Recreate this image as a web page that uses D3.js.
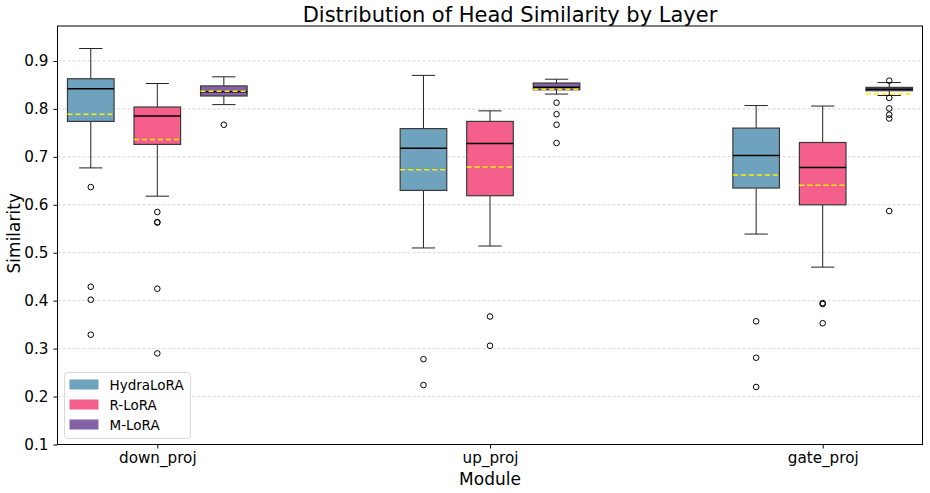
<!DOCTYPE html>
<html>
<head>
<meta charset="utf-8">
<script src="https://cdn.jsdelivr.net/npm/d3@7"></script>
<style>
  body { margin: 0; background: #fff; }
  text { font-family: "DejaVu Sans", sans-serif; }
</style>
</head>
<body>
<div id="chart"></div>
<script>
const modules = ["down_proj", "up_proj", "gate_proj"];
const methods = ["HydraLoRA", "R-LoRA", "M-LoRA"];
const colors = ["#6fa3bd", "#f4608b", "#8462a6"];
const yTicks = [0.1, 0.2, 0.3, 0.4, 0.5, 0.6, 0.7, 0.8, 0.9];

// per module: [whisker low, q1, median, q3, whisker high, mean]
const hydraBoxes = [
  [0.677, 0.774, 0.842, 0.863, 0.926, 0.789],
  [0.510, 0.630, 0.718, 0.759, 0.870, 0.673],
  [0.539, 0.635, 0.703, 0.760, 0.807, 0.662]
];
const rloraBoxes = [
  [0.618, 0.726, 0.785, 0.804, 0.853, 0.736],
  [0.514, 0.619, 0.728, 0.774, 0.796, 0.679],
  [0.470, 0.600, 0.678, 0.730, 0.806, 0.641]
];
const mloraBoxes = [
  [0.809, 0.827, 0.836, 0.848, 0.867, 0.837],
  [0.831, 0.840, 0.845, 0.854, 0.862, 0.841],
  [0.828, 0.838, 0.841, 0.845, 0.855, 0.831]
];

// outliers per module
const hydraFliers = [
  [0.637, 0.429, 0.402, 0.329],
  [0.278, 0.224],
  [0.357, 0.281, 0.220]
];
const rloraFliers = [
  [0.585, 0.564, 0.563, 0.425, 0.290],
  [0.367, 0.306],
  [0.395, 0.393, 0.353]
];
const mloraFliers = [
  [0.767],
  [0.813, 0.789, 0.767, 0.729],
  [0.859, 0.823, 0.801, 0.788, 0.780, 0.587]
];

const allBoxes = [hydraBoxes, rloraBoxes, mloraBoxes];
const allFliers = [hydraFliers, rloraFliers, mloraFliers];

const W = 930, H = 493;
const margin = { top: 26, right: 7.5, bottom: 48.5, left: 57.5 };
const width = W - margin.left - margin.right,
  height = H - margin.top - margin.bottom;

const svg = d3.select("#chart").append("svg")
  .attr("width", W)
  .attr("height", H);

const chart = svg.append("g")
  .attr("transform", `translate(${margin.left},${margin.top})`);

const x = d3.scaleLinear().domain([-0.3, 2.3]).range([0, width]);
const y = d3.scaleLinear().domain([0.1, 0.973]).range([height, 0]);
const offsets = [-0.2, 0, 0.2];
const boxW = x(0.14) - x(0);

// grid
chart.append("g")
  .selectAll("line")
  .data(yTicks)
  .join("line")
  .attr("x1", 0).attr("x2", width)
  .attr("y1", d => y(d)).attr("y2", d => y(d))
  .attr("stroke", "#cccccc")
  .attr("stroke-width", 0.8)
  .attr("stroke-dasharray", "3,2");

// boxes
methods.forEach((m, si) => {
  const g = chart.append("g").attr("class", "series-" + si);
  modules.forEach((mod, mi) => {
    const [lo, q1, med, q3, hi, mean] = allBoxes[si][mi];
    const cx = x(mi + offsets[si]);
    const x0 = cx - boxW / 2, x1 = cx + boxW / 2;

    // whiskers
    g.append("line").attr("x1", cx).attr("x2", cx)
      .attr("y1", y(q3)).attr("y2", y(hi))
      .attr("stroke", "#222").attr("stroke-width", 1);
    g.append("line").attr("x1", cx).attr("x2", cx)
      .attr("y1", y(q1)).attr("y2", y(lo))
      .attr("stroke", "#222").attr("stroke-width", 1);
    [lo, hi].forEach(v => {
      g.append("line")
        .attr("x1", cx - boxW / 4).attr("x2", cx + boxW / 4)
        .attr("y1", y(v)).attr("y2", y(v))
        .attr("stroke", "#222").attr("stroke-width", 1);
    });

    g.append("rect")
      .attr("x", x0).attr("y", y(q3))
      .attr("width", boxW).attr("height", y(q1) - y(q3))
      .attr("fill", colors[si])
      .attr("stroke", "#3a3a3a")
      .attr("stroke-width", 1.2);

    g.append("line").attr("x1", x0).attr("x2", x1)
      .attr("y1", y(med)).attr("y2", y(med))
      .attr("stroke", "#000").attr("stroke-width", 1.5);

    g.append("line").attr("x1", x0).attr("x2", x1)
      .attr("y1", y(mean)).attr("y2", y(mean))
      .attr("stroke", "#ffee00").attr("stroke-width", 1.5)
      .attr("stroke-dasharray", "5,3");

    g.selectAll(null)
      .data(allFliers[si][mi])
      .join("circle")
      .attr("cx", cx).attr("cy", d => y(d))
      .attr("r", 2.8)
      .attr("fill", "none")
      .attr("stroke", "#000")
      .attr("stroke-width", 1);
  });
});

// axes
const yAxis = chart.append("g")
  .call(d3.axisLeft(y).tickValues(yTicks).tickFormat(d3.format(".1f")).tickSize(4).tickPadding(5));
const xAxis = chart.append("g")
  .attr("transform", `translate(0,${height})`)
  .call(d3.axisBottom(x).tickValues([0, 1, 2]).tickFormat((d, i) => modules[i]).tickSize(4).tickPadding(4));
[yAxis, xAxis].forEach(a => {
  a.select(".domain").remove();
  a.selectAll("text").style("font-size", "15.2px").attr("fill", "#000");
  a.selectAll("line").attr("stroke", "#000");
});

chart.append("rect")
  .attr("width", width).attr("height", height)
  .attr("fill", "none").attr("stroke", "#000").attr("stroke-width", 1);

// labels
svg.append("text")
  .attr("x", 510).attr("y", 22)
  .attr("text-anchor", "middle")
  .style("font-size", "21px")
  .text("Distribution of Head Similarity by Layer");

svg.append("text")
  .attr("x", margin.left + width / 2).attr("y", 485)
  .attr("text-anchor", "middle")
  .style("font-size", "17px")
  .text("Module");

svg.append("text")
  .attr("transform", "rotate(-90)")
  .attr("x", -(margin.top + height / 2) + 2).attr("y", 20)
  .attr("text-anchor", "middle")
  .style("font-size", "17px")
  .text("Similarity");

// legend
const legend = svg.append("g").attr("transform", "translate(64.5,372.5)");
legend.append("rect")
  .attr("width", 126).attr("height", 66)
  .attr("rx", 3)
  .attr("fill", "#fff").attr("fill-opacity", 0.8)
  .attr("stroke", "#d8d8d8");
methods.forEach((m, i) => {
  legend.append("rect")
    .attr("x", 5).attr("y", 7 + i * 20)
    .attr("width", 29).attr("height", 10)
    .attr("fill", colors[i]);
  legend.append("text")
    .attr("x", 45).attr("y", 17 + i * 20)
    .style("font-size", "13.5px")
    .text(m);
});
</script>
</body>
</html>
